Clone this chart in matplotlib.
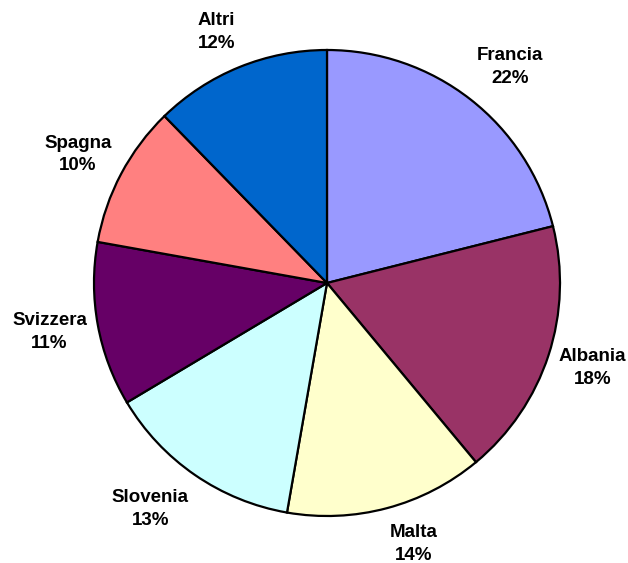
import matplotlib
matplotlib.use("Agg")
import matplotlib.pyplot as plt
import numpy as np

categories = ["Francia", "Albania", "Malta", "Slovenia", "Svizzera", "Spagna", "Altri"]
values = [21.1, 17.9, 13.8, 13.7, 11.4, 9.9, 12.3]
pct_labels = ["22%", "18%", "14%", "13%", "11%", "10%", "12%"]
colors = ["#9999FF", "#993366", "#FFFFCC", "#CCFFFF", "#660066", "#FF8080", "#0066CC"]

plt.rcParams['font.family'] = ['Liberation Sans', 'DejaVu Sans']

W, H = 628, 563
fig = plt.figure(figsize=(W / 100, H / 100), dpi=100)
ax = fig.add_axes([0, 0, 1, 1])

cx, cy, r = 327, 283, 233
labels = [f"{c}\n{p}" for c, p in zip(categories, pct_labels)]
wedges, texts = ax.pie(values, labels=labels, colors=colors, startangle=90,
                       counterclock=False, radius=1, labeldistance=1.2,
                       wedgeprops=dict(edgecolor="black", linewidth=1.6),
                       textprops=dict(fontsize=13.5, fontweight="bold", color="black",
                                      linespacing=1.45))
ax.set_xlim(-cx / r, (W - cx) / r)
ax.set_ylim(-(H - cy) / r, cy / r)
ax.set_aspect("equal")
ax.axis("off")

fig.canvas.draw()
renderer = fig.canvas.get_renderer()
gap = 11  # px between pie edge and label box
for w, t in zip(wedges, texts):
    t.set_ha("center")
    t.set_va("center")
    theta = np.deg2rad((w.theta1 + w.theta2) / 2)
    c, s = np.cos(theta), np.sin(theta)
    bb = t.get_window_extent(renderer)
    hw, hh = bb.width / 2, bb.height / 2
    x = (r + gap) * c + np.sign(c) * hw
    y = (r + gap) * s + np.clip(1.2 * s, -1, 1) * (hh + 5)
    t.set_position((x / r, y / r))

fig.savefig("out.png", dpi=100)
